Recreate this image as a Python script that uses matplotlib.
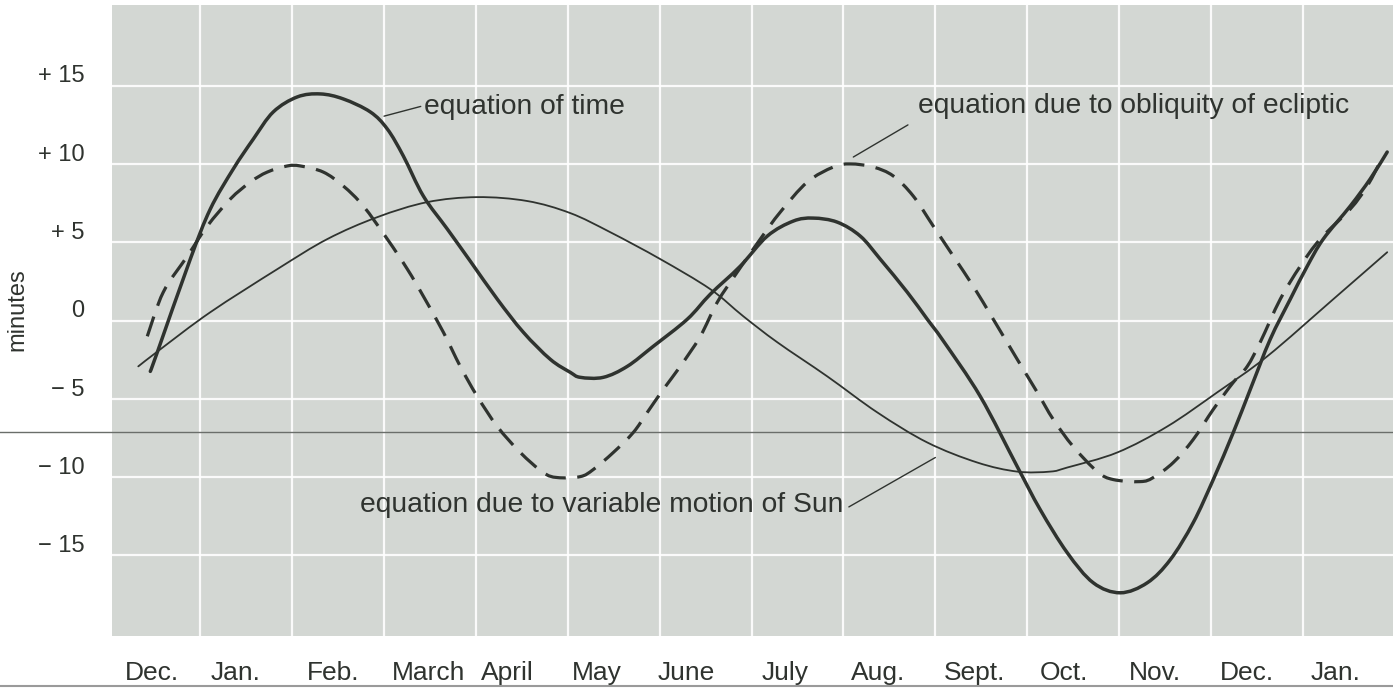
import matplotlib
matplotlib.use("Agg")
import matplotlib.pyplot as plt
import matplotlib.transforms as mtransforms
from matplotlib.path import Path
from matplotlib.patches import PathPatch

plt.rcParams['font.family'] = ['Liberation Sans', 'DejaVu Sans']

# ---------------- data (x in month units, y in minutes) ----------------
months = ["Dec.", "Jan.", "Feb.", "March", "April", "May", "June", "July",
          "Aug.", "Sept.", "Oct.", "Nov.", "Dec.", "Jan."]
month_label_pos = [0.47, 1.38, 2.45, 3.48, 4.34, 5.32, 6.29, 7.37,
                   8.38, 9.43, 10.40, 11.39, 12.39, 13.36]
y_tick_values = [15, 10, 5, 0, -5, -10, -15]
y_tick_labels = ["+ 15", "+ 10", "+ 5", "0", "\u2212 5", "\u2212 10", "\u2212 15"]

# equation of time (thick solid)
eot_x = [0.457, 0.533, 0.892, 1.110, 1.360, 1.578, 1.795, 2.057, 2.307, 2.557,
         2.851, 3.036, 3.210, 3.428, 3.689, 3.939, 4.233, 4.516, 4.810, 5.027,
         5.136, 5.386, 5.647, 5.930, 6.300, 6.551, 6.877, 7.171, 7.454, 7.671,
         7.933, 8.183, 8.400, 8.694, 8.912, 9.086, 9.489, 9.891, 10.141, 10.435,
         10.718, 11.012, 11.306, 11.556, 11.806, 12.024, 12.242, 12.427, 12.644,
         12.862, 13.047, 13.221, 13.515, 13.732, 13.917]
eot_y = [-4.00, -2.78, 3.17, 6.37, 8.93, 10.84, 12.57, 13.53, 13.72, 13.40,
         12.57, 11.48, 9.76, 7.20, 5.09, 3.04, 0.61, -1.50, -3.23, -4.06,
         -4.38, -4.38, -3.68, -2.40, -0.67, 0.93, 2.72, 4.64, 5.60, 5.79,
         5.53, 4.64, 3.17, 1.06, -0.67, -2.05, -5.60, -10.08, -12.83, -15.58,
         -17.50, -18.14, -17.50, -16.03, -13.66, -10.91, -7.90, -5.15, -1.95,
         0.61, 2.72, 4.45, 6.56, 8.29, 10.01]

# equation due to obliquity of ecliptic (dashed)
obl_x = [0.424, 0.598, 0.860, 1.077, 1.328, 1.545, 1.730, 1.948, 2.089, 2.339,
         2.557, 2.775, 3.036, 3.254, 3.428, 3.646, 3.830, 4.015, 4.233, 4.483,
         4.733, 4.886, 5.136, 5.277, 5.495, 5.713, 5.865, 6.039, 6.224, 6.442,
         6.627, 6.844, 7.095, 7.312, 7.606, 7.889, 8.074, 8.324, 8.542, 8.759,
         8.977, 9.195, 9.412, 9.630, 9.891, 10.109, 10.283, 10.500, 10.762,
         10.936, 11.230, 11.371, 11.589, 11.806, 12.024, 12.242, 12.394, 12.535,
         12.753, 12.971, 13.188, 13.515, 13.700, 13.874]
obl_y = [-1.76, 1.06, 3.36, 5.28, 7.01, 8.09, 8.73, 9.12, 9.12, 8.73,
         7.84, 6.56, 4.45, 2.53, 0.80, -1.50, -3.68, -5.60, -7.52, -9.18,
         -10.46, -10.78, -10.72, -10.27, -9.18, -7.90, -6.62, -5.15, -3.68, -1.76,
         0.42, 2.34, 4.45, 6.17, 8.09, 9.05, 9.25, 9.05, 8.48, 7.20,
         5.28, 3.36, 1.44, -0.67, -3.23, -5.34, -7.07, -8.80, -10.40,
         -10.91, -11.04, -10.78, -9.82, -8.35, -6.43, -4.70, -3.68, -2.14,
         0.61, 2.72, 4.45, 6.37, 7.84, 9.76]

# equation due to variable motion of Sun (thin solid)
ecc_x = [0.326, 0.566, 1.110, 1.839, 2.383, 2.927, 3.471, 4.015, 4.559, 5.027,
         5.462, 6.007, 6.551, 6.910, 7.280, 7.824, 8.368, 8.912, 9.456, 9.891,
         10.250, 10.435, 10.979, 11.523, 12.067, 12.611, 13.330, 13.917]
ecc_y = [-3.68, -2.59, -0.22, 2.53, 4.45, 5.85, 6.81, 7.13, 6.88, 6.11,
         4.89, 3.17, 1.25, -0.48, -2.14, -4.32, -6.62, -8.54, -9.82, -10.40,
         -10.40, -10.14, -9.18, -7.52, -5.34, -3.04, 0.61, 3.61]


def smooth_path(xs, ys):
    """Smooth curve through the read points (Catmull-Rom as cubic Beziers)."""
    pts = list(zip(xs, ys))
    n = len(pts)
    verts = [pts[0]]
    codes = [Path.MOVETO]
    for i in range(n - 1):
        p0 = pts[i - 1] if i > 0 else pts[i]
        p1 = pts[i]
        p2 = pts[i + 1]
        p3 = pts[i + 2] if i + 2 < n else pts[i + 1]
        c1 = (p1[0] + (p2[0] - p0[0]) / 6, p1[1] + (p2[1] - p0[1]) / 6)
        c2 = (p2[0] - (p3[0] - p1[0]) / 6, p2[1] - (p3[1] - p1[1]) / 6)
        verts += [c1, c2, p2]
        codes += [Path.CURVE4] * 3
    return Path(verts, codes)


# ---------------- figure ----------------
W, H = 1393, 688
fig = plt.figure(figsize=(W / 100, H / 100), dpi=100)
fig.patch.set_facecolor("white")
ax = fig.add_axes([112 / W, 1 - 636 / H, (W - 112) / W, (636 - 5) / H])
ax.set_facecolor("#d3d7d3")
ax.set_xlim(0.04, 13.98)
ax.set_ylim(-20.9, 19.4)
for s in ax.spines.values():
    s.set_visible(False)

ink = "#2f332f"

# grid (white lines of the printed chart)
for gx in range(1, 14):
    ax.axvline(gx, color="white", lw=1.6, alpha=0.9, zorder=1)
for gy in [14.25, 9.25, 4.25, -0.75, -5.75, -10.75, -15.75]:
    ax.axhline(gy, color="white", lw=1.6, alpha=0.9, zorder=1)

# curves
ax.add_patch(PathPatch(smooth_path(ecc_x, ecc_y), fill=False, edgecolor=ink,
                       lw=1.3, zorder=3, capstyle="round"))
ax.add_patch(PathPatch(smooth_path(obl_x, obl_y), fill=False, edgecolor=ink,
                       lw=2.3, linestyle=(0, (6.5, 3.6)), zorder=3,
                       capstyle="butt"))
ax.add_patch(PathPatch(smooth_path(eot_x, eot_y), fill=False, edgecolor=ink,
                       lw=2.5, zorder=4, capstyle="round", joinstyle="round"))

# annotations with leader lines
tfs = 20.3
ax.annotate("equation of time", xy=(3.0, 12.3), xytext=(3.43, 12.44),
            fontsize=tfs, color=ink, va="baseline", ha="left",
            arrowprops=dict(arrowstyle="-", color=ink, lw=1.0,
                            shrinkA=0, shrinkB=0,
                            relpos=(0, 0.55)))
ax.annotate("equation due to obliquity of ecliptic", xy=(8.107, 9.69),
            xytext=(8.81, 12.5), fontsize=tfs, color=ink, va="baseline",
            ha="left",
            arrowprops=dict(arrowstyle="-", color=ink, lw=1.0,
                            shrinkA=6, shrinkB=0, relpos=(0, 0)))
ax.annotate("equation due to variable motion of Sun", xy=(9.0, -9.5),
            xytext=(2.742, -12.96), fontsize=tfs, color=ink, va="baseline",
            ha="left",
            arrowprops=dict(arrowstyle="-", color=ink, lw=1.0,
                            shrinkA=2, shrinkB=0, relpos=(1, 0.3)))

# ticks
ax.set_xticks(month_label_pos)
ax.set_xticklabels(months, fontsize=19, color=ink)
ax.set_yticks(y_tick_values)
ax.set_yticklabels(y_tick_labels, fontsize=17, color=ink)
ax.tick_params(axis="x", length=0, pad=18)
ax.tick_params(axis="y", length=0, pad=20)

fig.text(17 / W, 1 - 310 / H, "minutes", rotation=90, ha="center",
         va="center", fontsize=17, color=ink)

# stray horizontal rule across the page and the bottom edge line
blend = mtransforms.blended_transform_factory(fig.transFigure, ax.transData)
ax.plot([0, 1], [-7.84, -7.84], transform=blend, color="#6a6e6a", lw=1.0,
        clip_on=False, zorder=2)
fig.add_artist(plt.Line2D([0, 1], [2 / H, 2 / H], color="#9a9a9a", lw=1.5))

fig.savefig("out.png", dpi=100)
